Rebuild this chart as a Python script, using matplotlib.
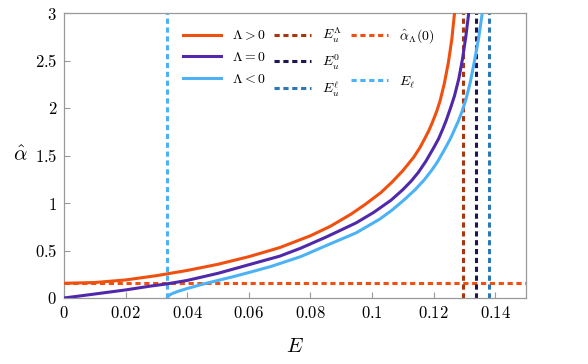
import matplotlib
matplotlib.use("Agg")
import matplotlib.pyplot as plt
from matplotlib.lines import Line2D
from matplotlib.ticker import FuncFormatter

plt.rcParams['mathtext.fontset'] = 'cm'
plt.rcParams['font.family'] = ['DejaVu Serif']

# ---- data ----
E_pos = [0, 0.01, 0.02, 0.03, 0.04, 0.05, 0.06, 0.07, 0.08, 0.0865, 0.0933, 0.098,
         0.1029, 0.1065, 0.110, 0.1135, 0.1155, 0.117, 0.1185, 0.1195, 0.121, 0.1221,
         0.1235, 0.1248, 0.1259, 0.1268]
a_pos = [0.155, 0.163, 0.19, 0.235, 0.29, 0.355, 0.435, 0.53, 0.655, 0.755, 0.885, 0.99,
         1.11, 1.22, 1.34, 1.48, 1.58, 1.67, 1.765, 1.84, 1.965, 2.075,
         2.26, 2.48, 2.72, 3.0]

E_zero = [0, 0.01, 0.02, 0.028, 0.0333, 0.04, 0.05, 0.06, 0.07, 0.0769, 0.085, 0.0948,
          0.1005, 0.1062, 0.110, 0.1127, 0.115, 0.1175, 0.12, 0.1216, 0.123, 0.1241,
          0.1256, 0.1268, 0.1282, 0.1294, 0.1305, 0.1314]
a_zero = [0.0, 0.042, 0.085, 0.125, 0.148, 0.185, 0.26, 0.35, 0.44, 0.525, 0.64, 0.79,
          0.90, 1.03, 1.14, 1.23, 1.32, 1.44, 1.58, 1.675, 1.78, 1.87,
          2.01, 2.13, 2.31, 2.52, 2.76, 3.0]

E_neg = [0.0335, 0.034, 0.035, 0.037, 0.04, 0.045, 0.05, 0.055, 0.06, 0.067, 0.0769, 0.085,
         0.0948, 0.1025, 0.1065, 0.1105, 0.114, 0.117, 0.1195, 0.1212, 0.1235, 0.1255,
         0.128, 0.1293, 0.1305, 0.1319, 0.1333, 0.1346, 0.1358]
a_neg = [0.0, 0.025, 0.045, 0.07, 0.10, 0.145, 0.185, 0.225, 0.268, 0.33, 0.436, 0.55,
         0.685, 0.83, 0.925, 1.035, 1.14, 1.245, 1.35, 1.43, 1.56, 1.68,
         1.86, 1.97, 2.09, 2.27, 2.50, 2.73, 3.0]

E_u_pos = 0.1295
E_u_zero = 0.1337
E_u_neg = 0.1380
E_ell = 0.0333
alpha0 = 0.155

x_ticks = [0, 0.02, 0.04, 0.06, 0.08, 0.1, 0.12, 0.14]
y_ticks = [0, 0.5, 1, 1.5, 2, 2.5, 3]

c_pos = '#F0500F'
c_zero = '#5028AA'
c_neg = '#4DB2F5'
c_eu_pos = '#A8360E'
c_eu_zero = '#20154F'
c_eu_neg = '#2A78B6'

fig = plt.figure(figsize=(5.88, 3.64), dpi=100)
ax = fig.add_axes([64/588, 1-298/364, (526-64)/588, (298-13)/364])

lw = 2.2
ds = (1.7, 1.2)
ax.axhline(alpha0, color=c_pos, lw=lw, dashes=ds, zorder=1)
ax.axvline(E_u_pos, color=c_eu_pos, lw=lw, dashes=ds, zorder=1)
ax.axvline(E_u_zero, color=c_eu_zero, lw=lw, dashes=ds, zorder=1)
ax.axvline(E_u_neg, color=c_eu_neg, lw=lw, dashes=ds, zorder=1)
ax.axvline(E_ell, color=c_neg, lw=lw, dashes=ds, zorder=1)

ax.plot(E_pos, a_pos, color=c_pos, lw=lw, zorder=3, solid_joinstyle='round')
ax.plot(E_zero, a_zero, color=c_zero, lw=lw, zorder=3, solid_joinstyle='round')
ax.plot(E_neg, a_neg, color=c_neg, lw=lw, zorder=3, solid_joinstyle='round')

ax.set_xlim(0, 0.15)
ax.set_ylim(0, 3)
ax.set_xticks(x_ticks)
ax.set_yticks(y_ticks)
fmt = FuncFormatter(lambda v, p: r'$%g$' % v)
ax.xaxis.set_major_formatter(fmt)
ax.yaxis.set_major_formatter(fmt)
ax.tick_params(direction='in', length=4, width=0.8, color='#999999', labelsize=12,
               top=False, right=False, pad=5)
for s in ax.spines.values():
    s.set_color('#999999')
    s.set_linewidth(0.9)

ax.set_xlabel(r'$E$', fontsize=15, labelpad=11)
ax.set_ylabel(r'$\hat{\alpha}$', fontsize=15, rotation=0, va='center', ha='center')
ax.yaxis.set_label_coords(-0.095, 0.50)

def L(c, dashed=False):
    if dashed:
        return Line2D([], [], color=c, lw=lw, dashes=ds)
    return Line2D([], [], color=c, lw=lw)

blank = Line2D([], [], color='none', lw=0)
handles = [L(c_pos), L(c_zero), L(c_neg),
           L(c_eu_pos, True), L(c_eu_zero, True), L(c_eu_neg, True),
           L(c_pos, True), blank, L(c_neg, True)]
labels = [r'$\Lambda > 0$', r'$\Lambda = 0$', r'$\Lambda < 0$',
          r'$E_u^\Lambda$', r'$E_u^0$', r'$E_u^\ell$',
          r'$\hat{\alpha}_\Lambda(0)$', '', r'$E_\ell$']
leg = ax.legend(handles, labels, ncol=3, frameon=False, fontsize=10,
                loc='upper left', bbox_to_anchor=(0.258, 0.955),
                handlelength=2.7, handletextpad=0.8, columnspacing=0.6,
                labelspacing=0.55, borderaxespad=0, borderpad=0)

fig.savefig('out.png', dpi=100)
